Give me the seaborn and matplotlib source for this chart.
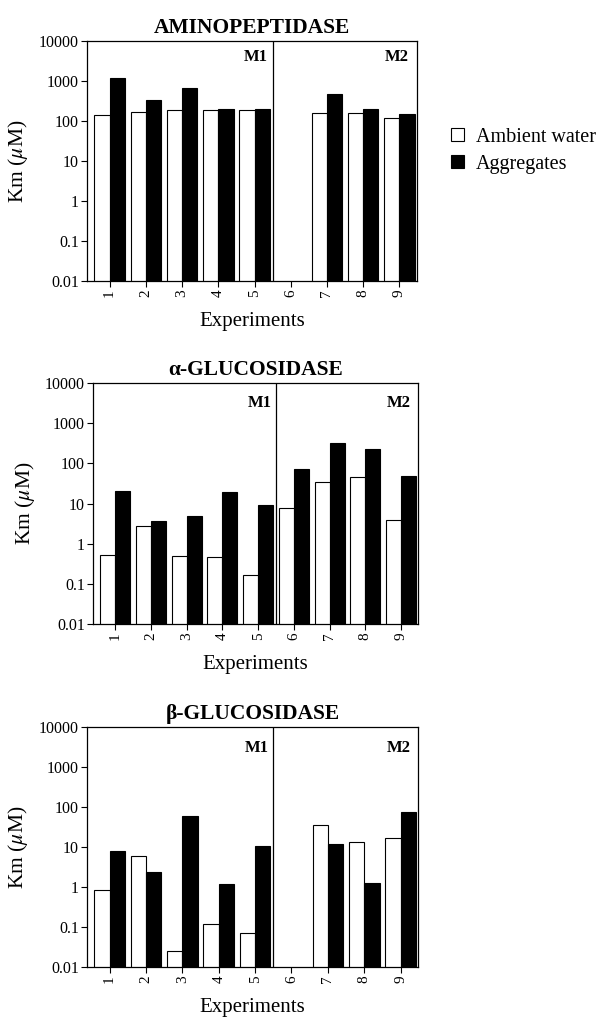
import numpy as np
import pandas as pd
import seaborn as sns
import matplotlib.pyplot as plt

# Km values (NaN = no bar)
experiments = ['1', '2', '3', '4', '5', '6', '7', '8', '9']
series = ['Ambient water', 'Aggregates']

amino_ambient = [141, 171, 188, 188, 188, np.nan, 162, 162, 117]
amino_aggreg = [1190, 335, 655, 204, 204, np.nan, 473, 204, 150]

alpha_ambient = [0.52, 2.8, 0.49, 0.47, 0.165, 7.9, 35, 45, 3.9]
alpha_aggreg = [20, 3.76, 5.0, 18.8, 9.4, 73, 329, 224, 48]

beta_ambient = [0.86, 6.0, 0.025, 0.117, 0.072, np.nan, 35.5, 13.1, 16.8]
beta_aggreg = [7.9, 2.37, 62, 1.17, 10.8, np.nan, 12.3, 1.26, 75]

titles = ['AMINOPEPTIDASE', 'α-GLUCOSIDASE', 'β-GLUCOSIDASE']
yticks = [0.01, 0.1, 1, 10, 100, 1000, 10000]
ytick_labels = ['0.01', '0.1', '1', '10', '100', '1000', '10000']


def make_df(ambient, aggreg):
    return pd.DataFrame({
        'exp': experiments * 2,
        'type': [series[0]] * 9 + [series[1]] * 9,
        'km': list(ambient) + list(aggreg),
    })


panels = [make_df(amino_ambient, amino_aggreg),
          make_df(alpha_ambient, alpha_aggreg),
          make_df(beta_ambient, beta_aggreg)]

sns.set_style('white')
plt.rcParams['font.family'] = ['Liberation Serif', 'DejaVu Serif']
plt.rcParams['mathtext.fontset'] = 'stix'
plt.rcParams['text.color'] = 'black'
plt.rcParams['axes.labelcolor'] = 'black'
plt.rcParams['xtick.color'] = 'black'
plt.rcParams['ytick.color'] = 'black'

fig = plt.figure(figsize=(6.05, 10.24), dpi=100)
positions = [[0.144, 0.7256, 0.545, 0.2344],
             [0.154, 0.3906, 0.537, 0.2354],
             [0.144, 0.0557, 0.547, 0.2340]]
m_y = [0.933, 0.915, 0.912]

for i, df in enumerate(panels):
    ax = fig.add_axes(positions[i])
    sns.barplot(data=df, x='exp', y='km', hue='type', order=experiments,
                hue_order=series, palette=['white', 'black'],
                edgecolor='black', linewidth=0.8, width=0.84, gap=0,
                errorbar=None, ax=ax)
    ax.set_yscale('log')
    ax.set_ylim(0.01, 10000)
    ax.set_xlim(-0.62, 8.48)
    ax.set_yticks(yticks)
    ax.set_yticklabels(ytick_labels, fontsize=11.5)
    ax.yaxis.set_minor_locator(plt.NullLocator())
    ax.set_xticks(range(9))
    ax.set_xticklabels(experiments, rotation=90, fontsize=11)
    ax.tick_params(axis='both', direction='out', length=4, width=0.8,
                   left=True, bottom=True, colors='black', pad=2)
    for s in ax.spines.values():
        s.set_visible(True)
        s.set_color('black')
        s.set_linewidth(0.9)
    ax.axvline(4.5, color='black', lw=0.9)
    ax.set_title(titles[i], fontsize=15.5, fontweight='bold', pad=6,
                 color='black')
    ax.set_xlabel('Experiments', fontsize=15, labelpad=11)
    ax.set_ylabel(r'Km ($\mu$M)', fontsize=15.5, labelpad=6)
    ax.text(4.37, m_y[i], 'M1', transform=ax.get_xaxis_transform(),
            ha='right', va='center', fontsize=12, fontweight='bold')
    ax.text(8.27, m_y[i], 'M2', transform=ax.get_xaxis_transform(),
            ha='right', va='center', fontsize=12, fontweight='bold')
    if i == 0:
        handles, labels = ax.get_legend_handles_labels()
    ax.get_legend().remove()

fig.legend(handles, labels, loc='upper left', bbox_to_anchor=(0.715, 0.893),
           frameon=False, fontsize=14.5, handlelength=0.65, handleheight=0.65,
           labelspacing=0.4, handletextpad=0.6)

fig.savefig('out.png', dpi=100)
